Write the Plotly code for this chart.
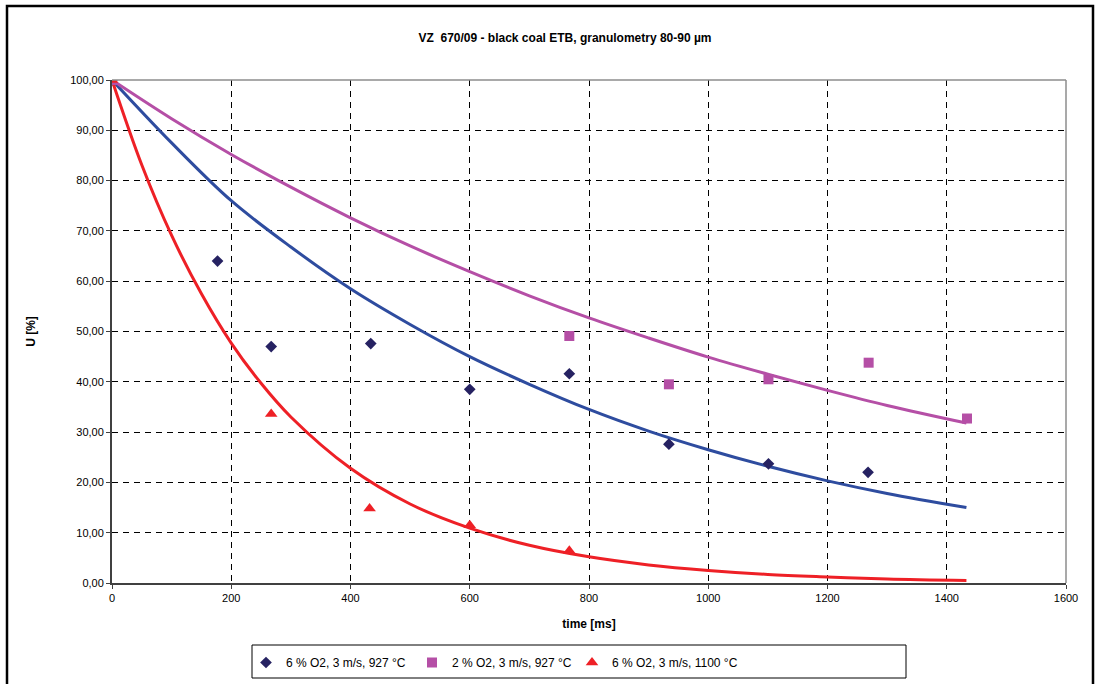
import plotly.graph_objects as go

# ---- data ----
t_blue = [0, 177, 267, 434, 600, 767, 934, 1101, 1268]
u_blue = [100.0, 64.0, 47.0, 47.6, 38.5, 41.6, 27.6, 23.7, 22.0]

t_pink = [0, 767, 934, 1101, 1269, 1434]
u_pink = [100.0, 49.1, 39.5, 40.5, 43.8, 32.7]

t_red = [0, 267, 432, 600, 767]
u_red = [100.0, 33.6, 14.8, 11.5, 6.4]

# fitted trend curves
fit_t = [0, 100, 200, 300, 400, 500, 600, 700, 800, 900, 1000, 1100, 1200, 1300, 1433]
fit_blue = [100.0, 87.5, 76.0, 66.8, 58.5, 51.4, 45.0, 39.5, 34.5, 30.2, 26.5, 23.2, 20.3, 17.8, 15.0]
fit_pink = [100.0, 92.3, 85.2, 78.7, 72.6, 67.0, 61.9, 57.1, 52.7, 48.7, 44.9, 41.5, 38.3, 35.3, 31.8]

fit_red_t = [0, 50, 100, 150, 200, 250, 300, 400, 500, 600, 700, 800, 900, 1000, 1100, 1200, 1300, 1433]
fit_red = [100.0, 83.1, 69.1, 57.5, 47.7, 39.7, 33.0, 22.8, 15.7, 10.9, 7.5, 5.2, 3.6, 2.5, 1.7, 1.2, 0.8, 0.5]

names = ["6 % O2, 3 m/s, 927 °C", "2 % O2, 3 m/s, 927 °C", "6 % O2, 3 m/s, 1100 °C"]
title = "VZ\u00a0 670/09 - black coal ETB, granulometry 80-90 µm"

C_BLUE_M = "#262262"
C_BLUE_L = "#2E4C9F"
C_PINK = "#B54FA6"
C_RED = "#EE2026"

W, H = 1096, 684
L, R, T, B = 112, 1066, 80, 583


def px(xp):
    return (xp - L) / (R - L)


def py(yp):
    return (B - yp) / (B - T)


fig = go.Figure()

fig.add_trace(go.Scatter(x=fit_t, y=fit_blue, mode="lines", line=dict(color=C_BLUE_L, width=3, shape="spline"),
                         showlegend=False, hoverinfo="skip"))
fig.add_trace(go.Scatter(x=fit_t, y=fit_pink, mode="lines", line=dict(color=C_PINK, width=3, shape="spline"),
                         showlegend=False, hoverinfo="skip"))
fig.add_trace(go.Scatter(x=fit_red_t, y=fit_red, mode="lines", line=dict(color=C_RED, width=3, shape="spline"),
                         showlegend=False, hoverinfo="skip"))

fig.add_trace(go.Scatter(x=t_blue, y=u_blue, mode="markers", name=names[0], legend="legend",
                         marker=dict(symbol="diamond", size=9, color=C_BLUE_M)))
fig.add_trace(go.Scatter(x=t_pink, y=u_pink, mode="markers", name=names[1], legend="legend2",
                         marker=dict(symbol="square", size=10, color=C_PINK)))
fig.add_trace(go.Scatter(x=t_red, y=u_red, mode="markers", name=names[2], legend="legend3",
                         marker=dict(symbol="triangle-up", size=11, color=C_RED)))

shapes = [
    # top and right plot-area border (gray)
    dict(type="line", xref="paper", yref="paper", x0=0, x1=1, y0=1, y1=1, line=dict(color="#8C8C8C", width=1.5)),
    dict(type="line", xref="paper", yref="paper", x0=1, x1=1, y0=0, y1=1, line=dict(color="#8C8C8C", width=1.5)),
    # legend box
    dict(type="rect", xref="paper", yref="paper", x0=px(252), x1=px(906), y0=py(678), y1=py(645),
         line=dict(color="black", width=1), fillcolor="rgba(0,0,0,0)", layer="below"),
    # outer frame
    dict(type="rect", xref="paper", yref="paper", x0=px(7), x1=px(1093), y0=py(700), y1=py(6),
         line=dict(color="black", width=2.5), fillcolor="rgba(0,0,0,0)", layer="below"),
]

leg_common = dict(orientation="h", xanchor="left", y=py(648), yanchor="top",
                  bgcolor="rgba(0,0,0,0)", borderwidth=0, font=dict(size=12), itemsizing="trace")

fig.update_layout(
    width=W, height=H,
    margin=dict(l=L, r=W - R, t=T, b=H - B, autoexpand=False),
    paper_bgcolor="white", plot_bgcolor="white",
    font=dict(family="Liberation Sans, Arial, sans-serif", size=11, color="black"),
    separators=", ",
    title=dict(text="<b>" + title + "</b>", x=(383 + 747) / 2 / W, xanchor="center",
               y=1 - 38 / H, yanchor="middle", font=dict(size=12, color="black")),
    xaxis=dict(range=[0, 1600], dtick=200, tick0=0, tickformat="d",
               showgrid=True, gridcolor="black", gridwidth=1, griddash="6px,5px",
               zeroline=False, showline=True, linecolor="#404040", linewidth=2,
               ticks="outside", ticklen=4, tickcolor="#404040",
               tickfont=dict(size=11), automargin=False,
               title=dict(text="<b>time [ms]</b>", font=dict(size=12), standoff=16)),
    yaxis=dict(range=[0, 100], dtick=10, tick0=0, tickformat=".2f",
               showgrid=True, gridcolor="black", gridwidth=1, griddash="6px,5px",
               zeroline=False, showline=True, linecolor="#404040", linewidth=2,
               ticks="outside", ticklen=4, tickcolor="#404040",
               tickfont=dict(size=11), automargin=False,
               title=dict(text="<b>U [%]</b>", font=dict(size=12), standoff=32)),
    legend=dict(x=px(246), **leg_common),
    legend2=dict(x=px(412), **leg_common),
    legend3=dict(x=px(572), **leg_common),
    shapes=shapes,
    showlegend=True,
)

fig.write_html("out.html", config={"displayModeBar": False},
               post_script="document.body.style.margin='0';")
